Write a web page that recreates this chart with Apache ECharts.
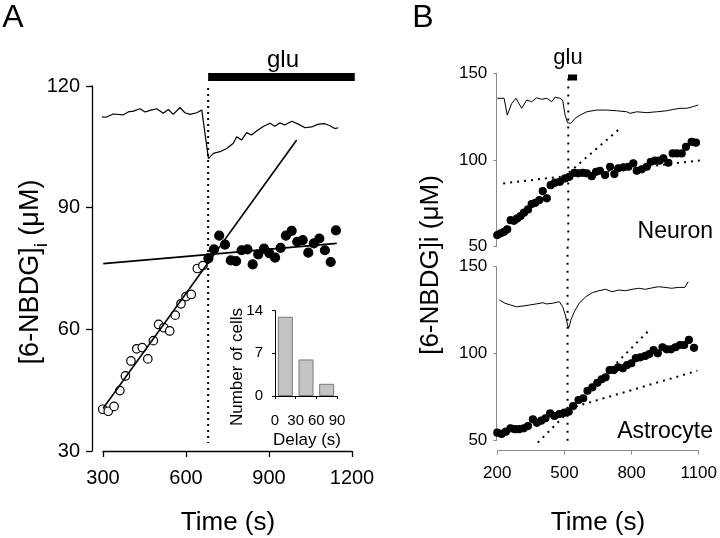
<!DOCTYPE html>
<html>
<head>
<meta charset="utf-8">
<script src="https://cdn.jsdelivr.net/npm/echarts@6/dist/echarts.min.js"></script>
<style>
  html, body { margin: 0; padding: 0; background: #fff; }
  #chart { width: 720px; height: 538px; }
</style>
</head>
<body>
<div id="chart"></div>
<script>
// panel A: ratio trace, open circles before glu, filled after glu
const traceATime = [289, 311, 337, 373, 391, 410, 434, 452, 470, 494, 518, 536, 554, 578, 596, 614, 639, 657, 681, 699, 723, 747, 771, 783, 801, 819, 837, 855, 879, 903, 921, 939, 957, 982, 1006, 1030, 1054, 1078, 1102, 1120, 1138, 1150]
const traceAValue = [112.4, 112.3, 113.1, 112.9, 113.6, 113.8, 114.4, 113.6, 114.0, 114.4, 113.3, 114.2, 113.0, 114.7, 113.4, 113.0, 113.4, 114.1, 102.1, 103.4, 103.8, 104.6, 105.9, 107.5, 106.7, 108.5, 107.9, 108.9, 110.0, 110.8, 110.1, 110.9, 110.4, 111.3, 110.6, 109.7, 109.9, 110.6, 110.7, 110.2, 109.5, 109.7]
const beforeTime = [299, 319, 340, 361, 381, 401, 422, 442, 462, 482, 501, 520, 541, 561, 582, 600, 619, 641, 661]
const beforeValue = [40.3, 39.8, 41.0, 44.9, 48.5, 52.2, 55.2, 55.5, 52.7, 57.2, 61.2, 60.4, 59.6, 63.5, 66.3, 68.1, 68.6, 75.0, 75.7]
const afterTime = [681, 701, 720, 741, 762, 781, 801, 822, 841, 861, 882, 901, 922, 942, 961, 982, 1002, 1022, 1042, 1062, 1082, 1102, 1123, 1142]
const afterValue = [77.5, 79.7, 83.1, 80.9, 77.0, 76.8, 79.5, 79.7, 76.0, 78.5, 79.9, 78.8, 77.7, 80.1, 83.1, 84.3, 81.6, 82.0, 78.9, 81.2, 82.4, 79.5, 76.6, 84.4]
const fitBeforeA = [[300, 40.5], [1000, 106.7]]
const fitAfterA = [[301, 76.2], [1145, 81.2]]
const gluA = 680
const gluBarA = [680, 1210]
const xTicksA = [300, 600, 900, 1200]
const yTicksA = [30, 60, 90, 120]

// inset histogram
const delayBins = [15, 45, 75]
const cellCounts = [13, 6, 2]

// panel B: neuron
const neuronTraceTime = [200, 230, 244, 264, 283, 308, 330, 352, 374, 396, 419, 441, 455, 477, 489, 500, 511, 525, 544, 566, 596, 640, 684, 728, 773, 787, 817, 861, 905, 950, 979, 1008, 1038, 1067, 1089]
const neuronTraceValue = [135.6, 135.6, 125.9, 132.7, 135.6, 129.8, 134.6, 133.6, 135.9, 135.0, 135.6, 133.6, 136.2, 135.6, 134.6, 125.9, 121.5, 121.1, 124.0, 125.9, 127.8, 128.8, 128.8, 128.4, 127.8, 126.9, 127.8, 127.3, 127.8, 128.4, 129.2, 129.8, 129.8, 130.8, 131.7]
const neuronTime = [200, 215, 230, 244, 259, 274, 288, 303, 318, 336, 352, 368, 386, 401, 419, 436, 455, 477, 500, 519, 541, 558, 578, 596, 618, 637, 654, 677, 699, 718, 735, 758, 780, 802, 817, 839, 861, 879, 898, 917, 935, 957, 976, 994, 1016, 1035, 1060, 1079]
const neuronValue = [56.7, 57.7, 58.6, 60.0, 65.3, 64.9, 66.3, 67.7, 69.6, 71.5, 74.6, 75.3, 76.9, 82.1, 77.9, 85.5, 86.9, 87.4, 89.4, 90.3, 92.6, 92.3, 92.6, 92.3, 90.7, 93.2, 93.8, 91.3, 96.1, 91.9, 95.2, 95.8, 96.1, 98.1, 93.8, 94.6, 96.1, 99.0, 99.6, 99.6, 101.0, 98.4, 103.8, 103.8, 103.8, 107.6, 110.5, 110.0]
const neuronFitBefore = [[470, 87.5], [735, 117.3]]
const neuronFitAfter = [[226, 86.5], [1178, 101.0]]

// panel B: astrocyte
const astroTraceTime = [209, 234, 259, 286, 315, 345, 374, 404, 419, 448, 477, 492, 504, 514, 519, 529, 544, 566, 596, 625, 654, 684, 713, 743, 773, 802, 832, 861, 891, 920, 950, 979, 1008, 1038, 1053]
const astroTraceValue = [130.9, 129.0, 128.0, 127.0, 127.4, 128.0, 128.6, 129.3, 128.6, 129.0, 129.9, 127.0, 122.2, 116.5, 114.6, 119.4, 124.1, 129.0, 132.8, 135.1, 136.2, 137.0, 135.6, 136.6, 136.2, 137.0, 137.6, 137.0, 137.8, 138.5, 138.1, 137.6, 138.1, 138.1, 141.4]
const astroTime = [200, 219, 238, 259, 278, 297, 318, 337, 359, 377, 396, 415, 436, 455, 477, 500, 519, 539, 563, 584, 603, 625, 647, 666, 684, 702, 721, 740, 761, 780, 799, 819, 839, 861, 879, 898, 917, 938, 957, 976, 996, 1016, 1035, 1056, 1079]
const astroValue = [54.6, 53.9, 55.2, 57.1, 56.6, 56.6, 57.1, 58.4, 62.3, 60.3, 61.5, 62.9, 65.7, 64.2, 65.3, 66.1, 66.7, 69.9, 73.4, 74.4, 78.7, 80.7, 83.3, 85.3, 86.4, 90.6, 90.6, 92.2, 91.6, 93.5, 94.5, 97.4, 97.9, 98.7, 99.8, 102.1, 100.2, 103.7, 102.5, 102.5, 103.7, 105.0, 105.0, 107.9, 103.4]
const astroFitBefore = [[520, 68.5], [1094, 90.2]]
const astroFitAfter = [[381, 48.9], [879, 113.6]]

const gluB = 514
const gluBarB = [513, 553]
const xTicksB = [200, 500, 800, 1100]
const yTicksB = [50, 100, 150]

const zip = (xs, ys) => xs.map((x, i) => [x, ys[i]])
const plain = v => String(v)

const font = 'Liberation Sans, Arial, sans-serif'
const grayAxis = '#8a8a8a'

const chart = echarts.init(document.getElementById('chart'))

function lineSeries(grid, data, style, z) {
  return {
    type: 'line',
    xAxisIndex: grid,
    yAxisIndex: grid,
    data: data,
    showSymbol: false,
    symbol: 'none',
    clip: false,
    silent: true,
    animation: false,
    z: z || 2,
    lineStyle: style
  }
}

function dots(grid, data, size, fill, z) {
  return {
    type: 'scatter',
    xAxisIndex: grid,
    yAxisIndex: grid,
    data: data,
    symbolSize: size,
    clip: false,
    animation: false,
    z: z || 3,
    itemStyle: { color: fill, borderColor: '#000', borderWidth: 1.2, opacity: 1 }
  }
}

const dotted = { color: '#000', width: 2, type: [2, 5] }

chart.setOption({
  animation: false,
  textStyle: { fontFamily: font, color: '#000' },
  grid: [
    { left: 103, width: 249, top: 86, height: 365 },
    { left: 275, width: 62, top: 310.7, height: 85.3 },
    { left: 497.3, width: 203.4, top: 73.3, height: 173.4 },
    { left: 497.3, width: 203.4, top: 266.7, height: 174 }
  ],
  xAxis: [
    {
      gridIndex: 0, type: 'value', min: 300, max: 1200, interval: 300,
      axisLine: { lineStyle: { color: '#000', width: 1.3 } },
      axisTick: { length: 6, lineStyle: { color: '#000', width: 1.3 } },
      axisLabel: { fontSize: 20, margin: 17, color: '#000', fontFamily: font,
        customValues: xTicksA, formatter: plain },
      splitLine: { show: false }
    },
    {
      gridIndex: 1, type: 'value', min: 0, max: 90, interval: 30, offset: 8,
      axisLine: { lineStyle: { color: '#000', width: 1 } },
      axisTick: { length: 3, lineStyle: { color: '#000' } },
      axisLabel: { fontSize: 15, margin: 9, color: '#000', fontFamily: font },
      splitLine: { show: false }
    },
    {
      gridIndex: 2, type: 'value', min: 200, max: 1100, show: false,
      splitLine: { show: false }
    },
    {
      gridIndex: 3, type: 'value', min: 200, max: 1100, offset: 10,
      axisLine: { lineStyle: { color: grayAxis, width: 1 } },
      axisTick: { length: 4, lineStyle: { color: grayAxis }, customValues: xTicksB },
      axisLabel: { fontSize: 17, margin: 14, color: '#000', fontFamily: font,
        customValues: xTicksB, formatter: plain },
      splitLine: { show: false }
    }
  ],
  yAxis: [
    {
      gridIndex: 0, type: 'value', min: 30, max: 120, interval: 30, offset: 11,
      axisLine: { show: true, lineStyle: { color: '#000', width: 1.3 } },
      axisTick: { show: true, length: 6, lineStyle: { color: '#000', width: 1.3 }, customValues: yTicksA },
      axisLabel: { fontSize: 20, margin: 12, color: '#000', fontFamily: font, customValues: yTicksA },
      splitLine: { show: false }
    },
    {
      gridIndex: 1, type: 'value', min: 0, max: 14, interval: 7, offset: 6,
      axisLine: { show: true, lineStyle: { color: '#000', width: 1 } },
      axisTick: { show: true, length: 3, lineStyle: { color: '#000' } },
      axisLabel: { fontSize: 15, margin: 6, color: '#000', fontFamily: font },
      splitLine: { show: false }
    },
    {
      gridIndex: 2, type: 'value', min: 50, max: 150, interval: 50, offset: 1,
      axisLine: { show: true, lineStyle: { color: grayAxis, width: 1 } },
      axisTick: { show: true, length: 3, lineStyle: { color: grayAxis }, customValues: yTicksB },
      axisLabel: { fontSize: 17, margin: 9, color: '#000', fontFamily: font, customValues: yTicksB },
      splitLine: { show: false }
    },
    {
      gridIndex: 3, type: 'value', min: 50, max: 150, interval: 50, offset: 1,
      axisLine: { show: true, lineStyle: { color: grayAxis, width: 1 } },
      axisTick: { show: true, length: 3, lineStyle: { color: grayAxis }, customValues: yTicksB },
      axisLabel: { fontSize: 17, margin: 9, color: '#000', fontFamily: font, customValues: yTicksB },
      splitLine: { show: false }
    }
  ],
  series: [
    // panel A
    lineSeries(0, zip(traceATime, traceAValue), { color: '#000', width: 1.2 }),
    lineSeries(0, [[gluA, 119.5], [gluA, 32]], { color: '#000', width: 2, type: [2, 4] }, 1),
    lineSeries(0, gluBarA.map(t => [t, 122.2]), { color: '#000', width: 8, cap: 'butt' }),
    lineSeries(0, fitBeforeA, { color: '#000', width: 1.6 }, 4),
    lineSeries(0, fitAfterA, { color: '#000', width: 1.6 }, 4),
    dots(0, zip(beforeTime, beforeValue), 8.5, '#fff'),
    dots(0, zip(afterTime, afterValue), 9, '#000'),
    // inset
    {
      type: 'bar', xAxisIndex: 1, yAxisIndex: 1,
      data: zip(delayBins, cellCounts), barWidth: 15, animation: false,
      itemStyle: { color: '#c4c4c4', borderColor: '#7a7a7a', borderWidth: 1 }
    },
    // panel B neuron
    lineSeries(2, zip(neuronTraceTime, neuronTraceValue), { color: '#000', width: 1 }),
    lineSeries(2, [[gluB, 147], [gluB, 50]], { color: '#000', width: 2, type: [2, 6] }, 1),
    lineSeries(2, gluBarB.map(t => [t, 147.6]), { color: '#000', width: 6, cap: 'butt' }),
    lineSeries(2, neuronFitBefore, dotted, 1),
    lineSeries(2, neuronFitAfter, dotted, 1),
    dots(2, zip(neuronTime, neuronValue), 7, '#000'),
    // panel B astrocyte
    lineSeries(3, zip(astroTraceTime, astroTraceValue), { color: '#000', width: 1 }),
    lineSeries(3, [[gluB, 161.5], [gluB, 48.5]], { color: '#000', width: 2, type: [2, 6] }, 1),
    lineSeries(3, astroFitBefore, dotted, 1),
    lineSeries(3, astroFitAfter, dotted, 1),
    dots(3, zip(astroTime, astroValue), 7, '#000')
  ],
  graphic: [
    { type: 'text', x: 13, y: 18, style: { text: 'A', font: '32px ' + font, fill: '#000', align: 'center', verticalAlign: 'middle' } },
    { type: 'text', x: 423, y: 18, style: { text: 'B', font: '32px ' + font, fill: '#000', align: 'center', verticalAlign: 'middle' } },
    { type: 'text', x: 283, y: 60, style: { text: 'glu', font: '24px ' + font, fill: '#000', align: 'center', verticalAlign: 'middle' } },
    { type: 'text', x: 568, y: 58, style: { text: 'glu', font: '22px ' + font, fill: '#000', align: 'center', verticalAlign: 'middle' } },
    { type: 'text', x: 713, y: 232, style: { text: 'Neuron', font: '23px ' + font, fill: '#000', align: 'right', verticalAlign: 'middle' } },
    { type: 'text', x: 713, y: 432, style: { text: 'Astrocyte', font: '23px ' + font, fill: '#000', align: 'right', verticalAlign: 'middle' } },
    { type: 'text', x: 228, y: 523, style: { text: 'Time (s)', font: '26px ' + font, fill: '#000', align: 'center', verticalAlign: 'middle' } },
    { type: 'text', x: 598, y: 523, style: { text: 'Time (s)', font: '26px ' + font, fill: '#000', align: 'center', verticalAlign: 'middle' } },
    { type: 'text', x: 307, y: 440, style: { text: 'Delay (s)', font: '17px ' + font, fill: '#000', align: 'center', verticalAlign: 'middle' } },
    { type: 'text', x: 237, y: 367, rotation: Math.PI / 2, style: { text: 'Number of cells', font: '17px ' + font, fill: '#000', align: 'center', verticalAlign: 'middle' } },
    {
      type: 'text', x: 31, y: 272, rotation: Math.PI / 2,
      style: {
        text: '{a|[6-NBDG]}{s|i}{a| (μM)}',
        align: 'center', verticalAlign: 'middle', fill: '#000',
        rich: {
          a: { fontSize: 27, fontFamily: font, lineHeight: 40, verticalAlign: 'middle' },
          s: { fontSize: 19, fontFamily: font, lineHeight: 40, verticalAlign: 'bottom' }
        }
      }
    },
    { type: 'text', x: 431, y: 265, rotation: Math.PI / 2, style: { text: '[6-NBDG]i (μM)', font: '26px ' + font, fill: '#000', align: 'center', verticalAlign: 'middle' } }
  ]
})
</script>
</body>
</html>
